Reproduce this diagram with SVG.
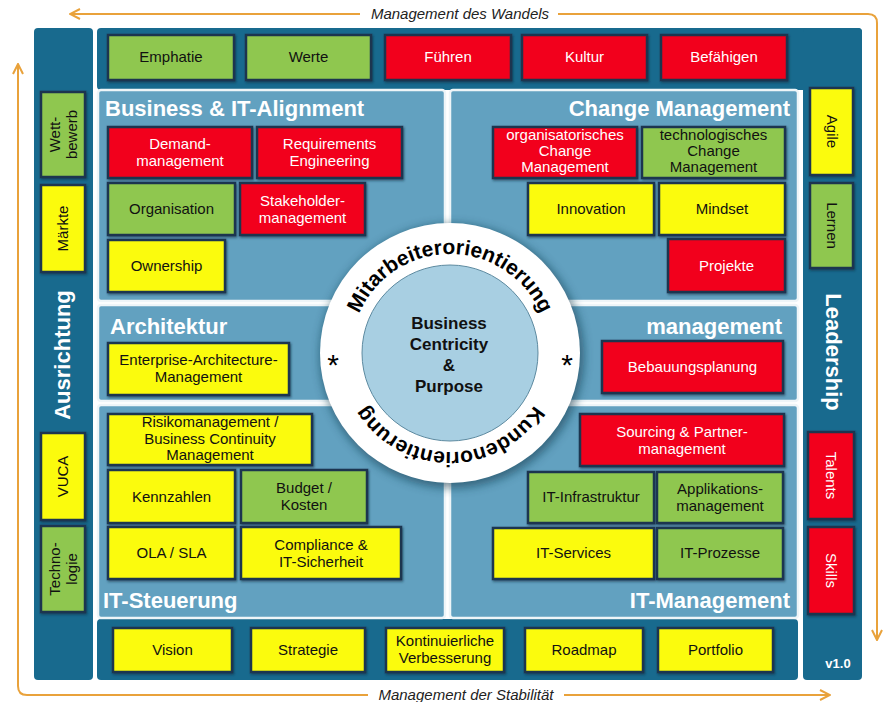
<svg xmlns="http://www.w3.org/2000/svg" width="885" height="702" viewBox="0 0 885 702">
<style>
text{font-family:"Liberation Sans",Arial,sans-serif}
.dark{fill:#186a8e}
.light{fill:#62a1c0;stroke:#eef5f8;stroke-width:2.5}
.b{stroke:#1b3550;stroke-width:2.5;filter:url(#sh)}
.g{fill:#8fc74f}.y{fill:#fbfb0c}.r{fill:#f2061b}
.t{font-size:15px;fill:#111;text-anchor:middle}
.tw{font-size:15px;fill:#fff;text-anchor:middle}
.sec{font-size:22px;font-weight:bold;fill:#fff}
.arr{fill:none;stroke:#e9a23b;stroke-width:2}
.lab{font-size:15px;font-style:italic;fill:#222;text-anchor:middle}
</style>
<defs>
<filter id="sh" x="-10%" y="-10%" width="125%" height="130%"><feDropShadow dx="1" dy="1.5" stdDeviation="1" flood-color="#0b2a3a" flood-opacity="0.6"/></filter>
<filter id="cs" x="-20%" y="-20%" width="140%" height="140%"><feGaussianBlur stdDeviation="5"/></filter>
<marker id="ah" viewBox="0 0 12 12" refX="11" refY="6" markerWidth="12" markerHeight="12" markerUnits="userSpaceOnUse" orient="auto"><path d="M1,1 L11,6 L1,11" fill="none" stroke="#e9a23b" stroke-width="2"/></marker>
<path id="circ" d="M351,353 A99,99 0 1,1 549,353 A99,99 0 1,1 351,353"/>
</defs>
<rect width="885" height="702" fill="#fff"/>

<g id="connectors">
<path class="arr" d="M360,14 H70" marker-end="url(#ah)"/>
<path class="arr" d="M558,14 H868 Q877,14 877,23 V640" marker-end="url(#ah)"/>
<path class="arr" d="M368,695 H27 Q18,695 18,686 V64" marker-end="url(#ah)"/>
<path class="arr" d="M564,695 H830" marker-end="url(#ah)"/>
<text class="lab" x="460" y="19">Management des Wandels</text>
<text class="lab" x="466" y="700">Management der Stabilität</text>
</g>

<g id="panels">
<rect class="dark" x="34" y="28" width="59" height="652" rx="4"/>
<rect class="dark" x="97" y="28" width="765" height="62" rx="4"/>
<rect class="dark" x="803" y="28" width="59" height="652" rx="4"/>
<rect class="dark" x="97" y="619" width="701" height="61" rx="4"/>
<rect class="light" x="98" y="90" width="347" height="211" rx="3"/>
<rect class="light" x="450" y="90" width="348" height="211" rx="3"/>
<rect class="light" x="98" y="305" width="347" height="96" rx="3"/>
<rect class="light" x="450" y="305" width="348" height="96" rx="3"/>
<rect class="light" x="98" y="405" width="347" height="213" rx="3"/>
<rect class="light" x="450" y="405" width="348" height="213" rx="3"/>
<text class="sec" x="105" y="116">Business &amp; IT-Alignment</text>
<text class="sec" x="790" y="116" text-anchor="end">Change Management</text>
<text class="sec" x="110" y="334">Architektur</text>
<text class="sec" x="782" y="334" text-anchor="end">management</text>
<text class="sec" x="103" y="608">IT-Steuerung</text>
<text class="sec" x="790" y="608" text-anchor="end">IT-Management</text>
<text class="sec" transform="translate(70,355) rotate(-90)" text-anchor="middle">Ausrichtung</text>
<text class="sec" transform="translate(826,352) rotate(90)" text-anchor="middle">Leadership</text>
<text x="838" y="668" font-size="13" font-weight="bold" fill="#fff" text-anchor="middle">v1.0</text>
</g>

<g id="n-emphatie"><rect class="b g" x="108" y="35" width="126" height="45"/><text class="t" x="171" y="62">Emphatie</text></g>
<g id="n-werte"><rect class="b g" x="246" y="35" width="125" height="45"/><text class="t" x="308.5" y="62">Werte</text></g>
<g id="n-fuehren"><rect class="b r" x="385" y="35" width="126" height="45"/><text class="tw" x="448" y="62">Führen</text></g>
<g id="n-kultur"><rect class="b r" x="522" y="35" width="125" height="45"/><text class="tw" x="584.5" y="62">Kultur</text></g>
<g id="n-befaehigen"><rect class="b r" x="661" y="35" width="126" height="45"/><text class="tw" x="724" y="62">Befähigen</text></g>

<g id="n-demand"><rect class="b r" x="108" y="127" width="144" height="51"/><text class="tw" x="180" y="149">Demand-<tspan x="180" dy="17">management</tspan></text></g>
<g id="n-requirements"><rect class="b r" x="257" y="127" width="145" height="51"/><text class="tw" x="329.5" y="149">Requirements<tspan x="329.5" dy="17">Engineering</tspan></text></g>
<g id="n-organisation"><rect class="b g" x="108" y="183" width="127" height="52"/><text class="t" x="171.5" y="214">Organisation</text></g>
<g id="n-stakeholder"><rect class="b r" x="240" y="183" width="125" height="52"/><text class="tw" x="302.5" y="206">Stakeholder-<tspan x="302.5" dy="17">management</tspan></text></g>
<g id="n-ownership"><rect class="b y" x="108" y="240" width="117" height="52"/><text class="t" x="166.5" y="271">Ownership</text></g>

<g id="n-orgchange"><rect class="b r" x="493" y="127" width="144" height="51"/><text class="tw" x="565" y="140" font-size="14">organisatorisches<tspan x="565" dy="16">Change</tspan><tspan x="565" dy="16">Management</tspan></text></g>
<g id="n-techchange"><rect class="b g" x="642" y="127" width="143" height="51"/><text class="t" x="713.5" y="140" font-size="14">technologisches<tspan x="713.5" dy="16">Change</tspan><tspan x="713.5" dy="16">Management</tspan></text></g>
<g id="n-innovation"><rect class="b y" x="528" y="183" width="126" height="52"/><text class="t" x="591" y="214">Innovation</text></g>
<g id="n-mindset"><rect class="b y" x="659" y="183" width="126" height="52"/><text class="t" x="722" y="214">Mindset</text></g>
<g id="n-projekte"><rect class="b r" x="668" y="239" width="117" height="53"/><text class="tw" x="726.5" y="271">Projekte</text></g>

<g id="n-eam"><rect class="b y" x="108" y="343" width="181" height="52"/><text class="t" x="198.5" y="365">Enterprise-Architecture-<tspan x="198.5" dy="17">Management</tspan></text></g>
<g id="n-bebauung"><rect class="b r" x="602" y="341" width="181" height="52"/><text class="tw" x="692.5" y="372">Bebauungsplanung</text></g>

<g id="n-risiko"><rect class="b y" x="108" y="414" width="204" height="51"/><text class="t" x="210" y="427" font-size="14">Risikomanagement /<tspan x="210" dy="16.5">Business Continuity</tspan><tspan x="210" dy="16.5">Management</tspan></text></g>
<g id="n-kennzahlen"><rect class="b y" x="108" y="470" width="127" height="53"/><text class="t" x="171.5" y="502">Kennzahlen</text></g>
<g id="n-budget"><rect class="b g" x="241" y="470" width="126" height="53"/><text class="t" x="304" y="493">Budget /<tspan x="304" dy="17">Kosten</tspan></text></g>
<g id="n-ola"><rect class="b y" x="108" y="527" width="127" height="52"/><text class="t" x="171.5" y="558">OLA / SLA</text></g>
<g id="n-compliance"><rect class="b y" x="241" y="527" width="160" height="52"/><text class="t" x="321" y="550">Compliance &amp;<tspan x="321" dy="17">IT-Sicherheit</tspan></text></g>

<g id="n-sourcing"><rect class="b r" x="580" y="414" width="204" height="52"/><text class="tw" x="682" y="437">Sourcing &amp; Partner-<tspan x="682" dy="17">management</tspan></text></g>
<g id="n-infra"><rect class="b g" x="528" y="472" width="126" height="51"/><text class="t" x="591" y="502">IT-Infrastruktur</text></g>
<g id="n-applikation"><rect class="b g" x="657" y="472" width="126" height="51"/><text class="t" x="720" y="494">Applikations-<tspan x="720" dy="17">management</tspan></text></g>
<g id="n-services"><rect class="b y" x="493" y="528" width="161" height="51"/><text class="t" x="573.5" y="558">IT-Services</text></g>
<g id="n-prozesse"><rect class="b g" x="657" y="528" width="126" height="51"/><text class="t" x="720" y="558">IT-Prozesse</text></g>

<g id="n-vision"><rect class="b y" x="113" y="628" width="119" height="44"/><text class="t" x="172.5" y="655">Vision</text></g>
<g id="n-strategie"><rect class="b y" x="251" y="628" width="114" height="44"/><text class="t" x="308" y="655">Strategie</text></g>
<g id="n-kvp"><rect class="b y" x="386" y="628" width="118" height="44"/><text class="t" x="445" y="646">Kontinuierliche<tspan x="445" dy="17">Verbesserung</tspan></text></g>
<g id="n-roadmap"><rect class="b y" x="525" y="628" width="118" height="44"/><text class="t" x="584" y="655">Roadmap</text></g>
<g id="n-portfolio"><rect class="b y" x="658" y="628" width="115" height="44"/><text class="t" x="715.5" y="655">Portfolio</text></g>

<g id="n-wettbewerb"><rect class="b g" x="41" y="92" width="44" height="85"/><text class="t" transform="translate(63,134.5) rotate(-90)" y="-3">Wett-<tspan x="0" dy="17">bewerb</tspan></text></g>
<g id="n-maerkte"><rect class="b y" x="41" y="185" width="44" height="87"/><text class="t" transform="translate(63,228.5) rotate(-90)" y="5">Märkte</text></g>
<g id="n-vuca"><rect class="b y" x="41" y="433" width="44" height="87"/><text class="t" transform="translate(63,476.5) rotate(-90)" y="5">VUCA</text></g>
<g id="n-technologie"><rect class="b g" x="41" y="526" width="44" height="86"/><text class="t" transform="translate(63,569) rotate(-90)" y="-3">Techno-<tspan x="0" dy="17">logie</tspan></text></g>

<g id="n-agile"><rect class="b y" x="810" y="88" width="43" height="87"/><text class="t" transform="translate(831.5,131.5) rotate(90)" y="5">Agile</text></g>
<g id="n-lernen"><rect class="b g" x="810" y="183" width="43" height="85"/><text class="t" transform="translate(831.5,225.5) rotate(90)" y="5">Lernen</text></g>
<g id="n-talents"><rect class="b r" x="808" y="432" width="46" height="87"/><text class="tw" transform="translate(831,475.5) rotate(90)" y="5">Talents</text></g>
<g id="n-skills"><rect class="b r" x="808" y="527" width="46" height="87"/><text class="tw" transform="translate(831,570.5) rotate(90)" y="5">Skills</text></g>

<g id="n-center">
<circle cx="452" cy="356" r="132" fill="#0d3447" opacity="0.55" filter="url(#cs)"/>
<circle cx="450" cy="353" r="130" fill="#fff"/>
<circle cx="450" cy="353" r="88" fill="#a8cfe2" stroke="#5d8aa0" stroke-width="1"/>
<text font-size="21" font-weight="bold" fill="#000"><textPath href="#circ" startOffset="25%" text-anchor="middle">Mitarbeiterorientierung</textPath></text>
<text font-size="21" font-weight="bold" fill="#000"><textPath href="#circ" startOffset="75%" text-anchor="middle">Kundenorientierung</textPath></text>
<text x="333" y="375" font-size="30" fill="#000" text-anchor="middle">*</text>
<text x="567" y="375" font-size="30" fill="#000" text-anchor="middle">*</text>
<text font-size="17" font-weight="bold" fill="#111" text-anchor="middle"><tspan x="449" y="329">Business</tspan><tspan x="449" y="350">Centricity</tspan><tspan x="449" y="371">&amp;</tspan><tspan x="449" y="392">Purpose</tspan></text>
</g>
</svg>
